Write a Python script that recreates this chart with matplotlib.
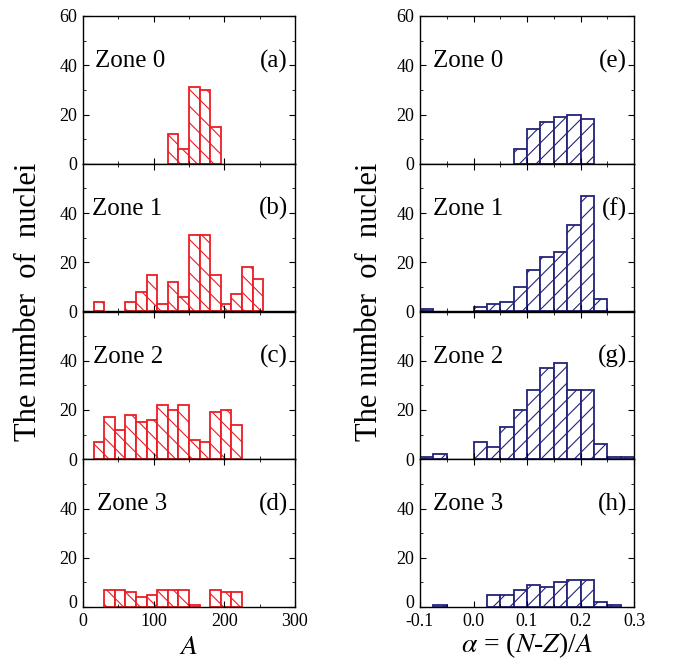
import numpy as np
import matplotlib
matplotlib.use('Agg')
import matplotlib.pyplot as plt
from matplotlib import rcParams
from matplotlib.ticker import MultipleLocator

rcParams['font.family'] = ['Liberation Serif', 'DejaVu Serif']
rcParams['mathtext.fontset'] = 'stix'
rcParams['hatch.linewidth'] = 0.8
rcParams['axes.linewidth'] = 1.0

# histogram data
A_bins = [15, 30, 45, 60, 75, 90, 105, 120, 135, 150, 165, 180, 195, 210, 225, 240]
A_width = 15
A_counts = [
    [0, 0, 0, 0, 0, 0, 0, 12, 6, 31, 30, 15, 0, 0, 0, 0],
    [4, 0, 0, 4, 8, 15, 3, 12, 6, 31, 31, 15, 3, 7, 18, 13],
    [7, 17, 12, 18, 15, 16, 22, 20, 22, 8, 7, 19, 20, 14, 0, 0],
    [0, 7, 7, 6, 4, 5, 7, 7, 7, 1, 0, 7, 6, 6, 0, 0],
]
alpha_bins = [-0.1, -0.075, -0.05, -0.025, 0.0, 0.025, 0.05, 0.075,
              0.1, 0.125, 0.15, 0.175, 0.2, 0.225, 0.25, 0.275]
alpha_width = 0.025
alpha_counts = [
    [0, 0, 0, 0, 0, 0, 0, 6, 14, 17, 19, 20, 18, 0, 0, 0],
    [1, 0, 0, 0, 2, 3, 4, 10, 17, 22, 24, 35, 47, 5, 0, 0],
    [1, 2, 0, 0, 7, 5, 13, 20, 28, 37, 39, 28, 28, 6, 1, 1],
    [0, 1, 0, 0, 0, 5, 5, 7, 9, 8, 10, 11, 11, 2, 1, 0],
]
zones = ['Zone 0', 'Zone 1', 'Zone 2', 'Zone 3']
left_tags = ['(a)', '(b)', '(c)', '(d)']
right_tags = ['(e)', '(f)', '(g)', '(h)']

red = '#ec1c24'
navy = '#23237a'

fig = plt.figure(figsize=(6.74, 6.61), dpi=100)
top, bot = 1 - 16 / 661, 1 - 607 / 661
h = (top - bot) / 4
lx0, lx1 = 83 / 674, 295 / 674
rx0, rx1 = 420 / 674, 634 / 674
zone_x = [0.057, 0.044, 0.049, 0.065]


def style(ax, first, last):
    ax.set_ylim(0, 60)
    ax.yaxis.set_minor_locator(MultipleLocator(10))
    ax.tick_params(which='both', direction='in', top=True, right=True,
                   labelsize=13, pad=4)
    ax.tick_params(axis='x', which='both', pad=4.5)
    ax.tick_params(which='major', length=4.5)
    ax.tick_params(which='minor', length=2.5)
    if first:
        ax.set_yticks([0, 20, 40, 60])
    elif last:
        # bottom "0" drawn a touch higher so it clears the x tick labels
        ax.set_yticks([0, 20, 40])
        ax.set_yticklabels(['', '20', '40'])
        ax.annotate('0', xy=(0, 0), xycoords='axes fraction',
                    xytext=(-4, 2.5), textcoords='offset points',
                    ha='right', va='center', fontsize=13)
    else:
        ax.set_yticks([0, 20, 40])


for i in range(4):
    y0 = top - (i + 1) * h
    # left column: mass number
    ax = fig.add_axes([lx0, y0, lx1 - lx0, h])
    x = np.array(A_bins)
    c = np.array(A_counts[i])
    m = c > 0
    ax.bar(x[m], c[m], width=A_width, align='edge', color='white',
           edgecolor=red, hatch='\\\\', linewidth=1.3)
    ax.set_xlim(0, 300)
    ax.xaxis.set_minor_locator(MultipleLocator(50))
    style(ax, i == 0, i == 3)
    if i < 3:
        ax.set_xticks([100, 200])
    else:
        ax.set_xticks([0, 100, 200, 300])
    ax.text(zone_x[i], 0.695, zones[i], transform=ax.transAxes, fontsize=18,
            va='center', ha='left')
    ax.text(0.967, 0.695, left_tags[i], transform=ax.transAxes, fontsize=18,
            va='center', ha='right')

    # right column: isospin asymmetry
    ax = fig.add_axes([rx0, y0, rx1 - rx0, h])
    x = np.array(alpha_bins)
    c = np.array(alpha_counts[i])
    m = c > 0
    ax.bar(x[m], c[m], width=alpha_width, align='edge', color='white',
           edgecolor=navy, hatch='//', linewidth=1.3)
    ax.set_xlim(-0.1, 0.3)
    ax.xaxis.set_minor_locator(MultipleLocator(0.05))
    style(ax, i == 0, i == 3)
    if i < 3:
        ax.set_xticks([0.0, 0.1, 0.2])
        ax.set_xticklabels(['0.0', '0.1', '0.2'])
    else:
        ax.set_xticks([-0.1, 0.0, 0.1, 0.2, 0.3])
        ax.set_xticklabels(['-0.1', '0.0', '0.1', '0.2', '0.3'])
    ax.text(0.061, 0.695, zones[i], transform=ax.transAxes, fontsize=18,
            va='center', ha='left')
    ax.text(0.967, 0.695, right_tags[i], transform=ax.transAxes, fontsize=18,
            va='center', ha='right')

fig.text(0.043, 0.543, 'The number  of  nuclei', rotation=90, fontsize=22,
         ha='center', va='center')
fig.text(0.548, 0.543, 'The number  of  nuclei', rotation=90, fontsize=22,
         ha='center', va='center')
fig.text((lx0 + lx1) / 2, 1 / 661, r'$A$', fontsize=20,
         ha='center', va='bottom')
fig.text((rx0 + rx1) / 2, 1 / 661, r'$\alpha$ = ($N$-$Z$)/$A$',
         fontsize=20, ha='center', va='bottom')

plt.savefig('out.png', dpi=100)
